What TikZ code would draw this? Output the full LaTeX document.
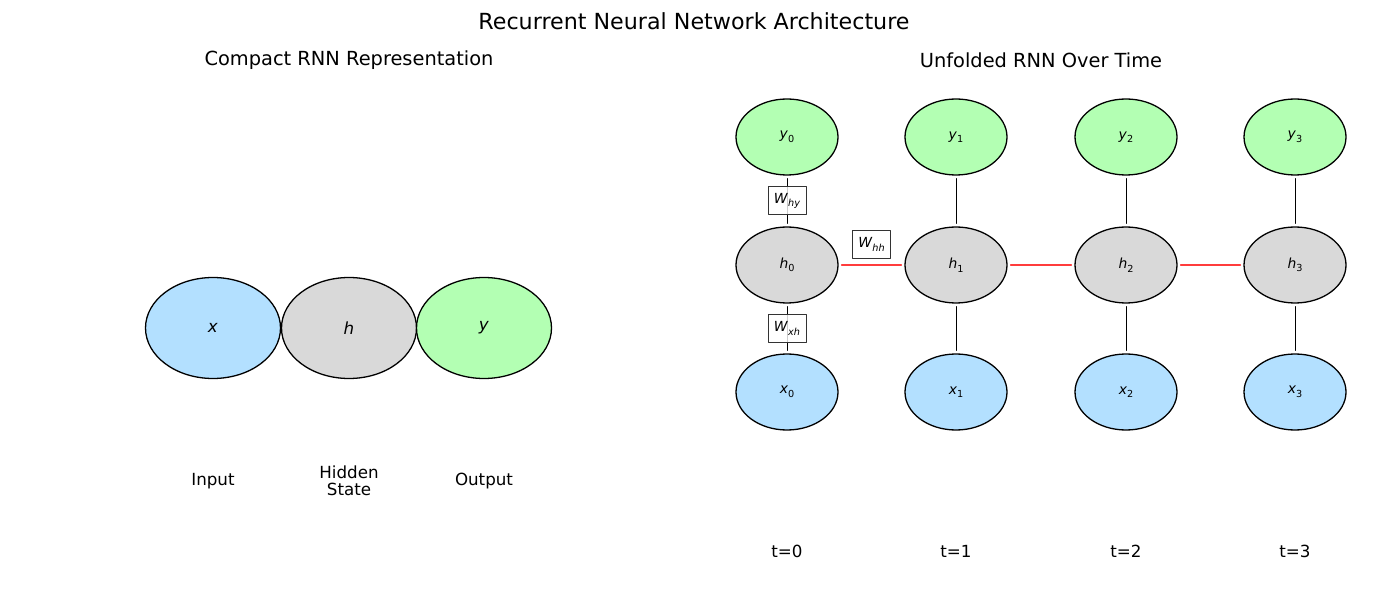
\documentclass[tikz,border=0pt]{standalone}
\usepackage{fontspec}
\setmainfont{DejaVu Sans}
\usetikzlibrary{shapes.geometric}
\definecolor{inblue}{RGB}{179,224,255}
\definecolor{hidgray}{RGB}{217,217,217}
\definecolor{outgreen}{RGB}{179,255,179}
\definecolor{recred}{RGB}{255,60,60}
\newcommand\mi[1]{\textit{#1}}
\newcommand\fs[1]{\fontsize{#1}{#1}\selectfont}
\newcommand\sub[1]{\raisebox{-.25em}{\fs{9.7}#1}}
\begin{document}
\begin{tikzpicture}[x=1pt,y=-1pt, line join=round, line cap=round,
    unit/.style={ellipse, draw, line width=1.3pt, inner sep=0pt, minimum width=102pt, minimum height=76pt, font=\fs{13.9}},
    bigunit/.style={ellipse, draw, line width=1.3pt, inner sep=0pt, minimum width=135pt, minimum height=101pt, font=\fs{16.7}},
    wbox/.style={draw=black!80, text=black, fill=white, fill opacity=.8, text opacity=1, line width=1pt, inner sep=2pt, minimum width=38pt, minimum height=28pt, font=\fs{13.9}},
    link/.style={line width=1pt, shorten <=3pt, shorten >=3pt},
    lbl/.style={font=\fs{16.7}, align=center}]
    \useasboundingbox (0,0) rectangle (1389,593);
    % titles
    \node[font=\fs{22.2}] (title) at (694,21) {Recurrent Neural Network Architecture};
    \node[font=\fs{19.4}] (ltitle) at (349,60) {Compact RNN Representation};
    \node[font=\fs{19.4}] (rtitle) at (1041,60) {Unfolded RNN Over Time};
    % compact
    \node[bigunit, fill=inblue] (cx) at (213,328) {\mi{x}};
    \node[bigunit, fill=hidgray] (ch) at (349,328) {\mi{h}};
    \node[bigunit, fill=outgreen] (cy) at (484,328) {\mi{y}};
    \node[lbl] (lx) at (213,481) {Input};
    \node[lbl, font=\fontsize{16.7}{17.5}\selectfont] (lh) at (349,481) {Hidden\\State};
    \node[lbl] (ly) at (484,481) {Output};
    % unfolded
    \foreach \i/\x in {0/787,1/956,2/1126,3/1295}{
        \node[unit, fill=outgreen] (y\i) at (\x,137) {\mi{y}\sub{\i}};
        \node[unit, fill=hidgray] (h\i) at (\x,265) {\mi{h}\sub{\i}};
        \node[unit, fill=inblue] (x\i) at (\x,392) {\mi{x}\sub{\i}};
        \node[lbl] (t\i) at (\x,551) {t=\i};
    }
    \foreach \i in {1,2,3}{
        \draw[link] (h\i) -- (y\i);
        \draw[link] (x\i) -- (h\i);
    }
    \foreach \i/\j in {1/2,2/3}
        \draw[link, recred, line width=1.4pt] (h\i) -- (h\j);
    \draw[link, recred, line width=1.4pt] (h0) -- node[wbox, above=6pt] (whh) {\mi{W}\sub{\mi{hh}}} (h1);
    \draw[link] (h0) -- node[wbox] (why) {\mi{W}\sub{\mi{hy}}} (y0);
    \draw[link] (x0) -- node[wbox] (wxh) {\mi{W}\sub{\mi{xh}}} (h0);
\end{tikzpicture}
\end{document}
